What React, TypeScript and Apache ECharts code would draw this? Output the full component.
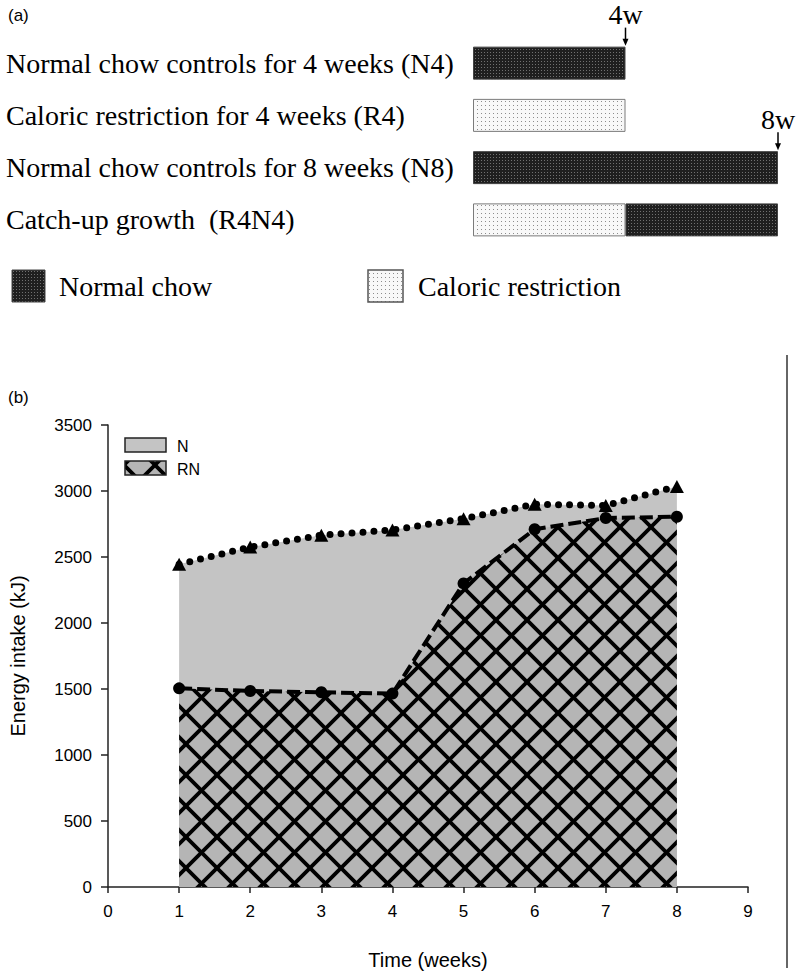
import React, { useEffect, useRef } from 'react';
import * as echarts from 'echarts';

// ---------- Panel (a) data ----------
const phaseCategories = [
  'Normal chow controls for 4 weeks (N4)',
  'Caloric restriction for 4 weeks (R4)',
  'Normal chow controls for 8 weeks (N8)',
  'Catch-up growth  (R4N4)',
];
const restrictionWeeks = [0, 4, 0, 4];
const normalWeeks = [4, 0, 8, 4];
const markerWeeks = [4, 8];
const markerRows = [0, 2];
const markerLabels = ['4w', '8w'];
const phaseLegend = ['Normal chow', 'Caloric restriction'];

// ---------- Panel (b) data ----------
const weeks = [1, 2, 3, 4, 5, 6, 7, 8];
const nIntake = [2445, 2575, 2665, 2705, 2790, 2900, 2890, 3035];
const rnIntake = [1505, 1485, 1475, 1465, 2300, 2710, 2795, 2805];
const seriesNames = ['N', 'RN'];

const SERIF = '"Liberation Serif", "Times New Roman", serif';
const SANS = '"Liberation Sans", Arial, sans-serif';

function svgTile(w: number, h: number, body: string) {
  const svg = `<svg xmlns='http://www.w3.org/2000/svg' width='${w}' height='${h}' shape-rendering='crispEdges'>${body}</svg>`;
  return {
    image: 'data:image/svg+xml;charset=utf-8,' + encodeURIComponent(svg),
    repeat: 'repeat',
    imageWidth: w,
    imageHeight: h,
  } as any;
}

function hatchTile(ox: number, oy: number) {
  const s = 31;
  let lines = '';
  for (const k of [-1, 0, 1]) {
    lines += `<line x1='-5' y1='${-5 + k * s}' x2='${s + 5}' y2='${s + 5 + k * s}'/>`;
    lines += `<line x1='-5' y1='${s + 5 + k * s}' x2='${s + 5}' y2='${-5 + k * s}'/>`;
  }
  const svg = `<svg xmlns='http://www.w3.org/2000/svg' width='${s}' height='${s}'><rect width='${s}' height='${s}' fill='#b5b5b5'/><g stroke='#000' stroke-width='3.8'>${lines}</g></svg>`;
  return {
    image: 'data:image/svg+xml;charset=utf-8,' + encodeURIComponent(svg),
    repeat: 'repeat',
    imageWidth: s,
    imageHeight: s,
    x: ox,
    y: oy,
  } as any;
}

const darkPattern = () =>
  svgTile(3, 3, `<rect width='3' height='3' fill='#1f1f1f'/><rect x='1' y='1' width='1' height='1' fill='#707070'/>`);
const lightPattern = () =>
  svgTile(4, 4, `<rect width='4' height='4' fill='#f8f8f8'/><rect x='1' y='1' width='1' height='1' fill='#8c8c8c'/>`);

export default function App() {
  const ref = useRef<HTMLDivElement>(null);

  useEffect(() => {
    document.body.style.margin = '0';
    if (!ref.current) return;
    const chart = echarts.init(ref.current, undefined, { renderer: 'svg' });
    const hatch = hatchTile(-2.5, 3.5);
    const hatchLegend = hatchTile(18, 9);
    const dark = darkPattern();
    const light = lightPattern();

    const barItem = (v: number, color: any, border: string) =>
      v === 0
        ? { value: 0, itemStyle: { borderWidth: 0 } }
        : { value: v, itemStyle: { color, borderColor: border, borderWidth: 1 } };

    chart.setOption({
      animation: false,
      backgroundColor: '#ffffff',
      grid: [
        { left: 107, right: 52, top: 425, bottom: 86 },
        { left: 473, right: 22, top: 37, height: 209 },
      ],
      xAxis: [
        {
          gridIndex: 0,
          type: 'value',
          min: 0,
          max: 9,
          interval: 1,
          name: 'Time (weeks)',
          nameLocation: 'middle',
          nameGap: 63,
          nameTextStyle: { fontFamily: SANS, fontSize: 20, color: '#000' },
          axisLine: { show: true, lineStyle: { color: '#222', width: 1.5 } },
          axisTick: { show: true, inside: false, length: 6, lineStyle: { color: '#222', width: 1.5 } },
          axisLabel: { fontFamily: SANS, fontSize: 17, color: '#000', margin: 16, formatter: (v: number) => String(v) },
          splitLine: { show: false },
        },
        {
          gridIndex: 1,
          type: 'value',
          min: 0,
          max: 8,
          show: false,
        },
      ],
      yAxis: [
        {
          gridIndex: 0,
          type: 'value',
          min: 0,
          max: 3500,
          interval: 500,
          name: 'Energy intake (kJ)',
          nameLocation: 'middle',
          nameRotate: 90,
          nameGap: 80,
          nameTextStyle: { fontFamily: SANS, fontSize: 20, color: '#000' },
          axisLine: { show: true, lineStyle: { color: '#222', width: 1.5 } },
          axisTick: { show: true, inside: false, length: 7, lineStyle: { color: '#222', width: 1.5 } },
          axisLabel: { fontFamily: SANS, fontSize: 17, color: '#000', margin: 16, formatter: (v: number) => String(v) },
          splitLine: { show: false },
        },
        {
          gridIndex: 1,
          type: 'category',
          inverse: true,
          data: phaseCategories,
          axisLine: { show: false },
          axisTick: { show: false },
          axisLabel: { align: 'left', margin: 467, fontFamily: SERIF, fontSize: 28, color: '#000' },
        },
      ],
      series: [
        {
          name: 'restriction',
          type: 'bar',
          xAxisIndex: 1,
          yAxisIndex: 1,
          stack: 'phase',
          barWidth: 33,
          data: restrictionWeeks.map((v) => barItem(v, light, '#7a7a7a')),
          z: 2,
        },
        {
          name: 'normal',
          type: 'bar',
          xAxisIndex: 1,
          yAxisIndex: 1,
          stack: 'phase',
          barWidth: 33,
          data: normalWeeks.map((v) => barItem(v, dark, '#444')),
          z: 2,
        },
        {
          name: seriesNames[0] + '-area',
          type: 'line',
          xAxisIndex: 0,
          yAxisIndex: 0,
          data: weeks.map((w, i) => [w, nIntake[i]]),
          symbol: 'none',
          lineStyle: { width: 0, opacity: 0 },
          areaStyle: { color: '#c4c4c4', opacity: 1 },
          z: 1,
        },
        {
          name: seriesNames[1] + '-area',
          type: 'line',
          xAxisIndex: 0,
          yAxisIndex: 0,
          data: weeks.map((w, i) => [w, rnIntake[i]]),
          symbol: 'none',
          lineStyle: { width: 0, opacity: 0 },
          areaStyle: { color: hatch, opacity: 1 },
          z: 2,
        },
        {
          name: seriesNames[0],
          type: 'line',
          xAxisIndex: 0,
          yAxisIndex: 0,
          data: weeks.map((w, i) => [w, nIntake[i]]),
          symbol: 'triangle',
          symbolSize: [14, 13],
          itemStyle: { color: '#000' },
          lineStyle: { color: '#000', width: 7, type: [0, 11], cap: 'round' },
          z: 4,
        },
        {
          name: seriesNames[1],
          type: 'line',
          xAxisIndex: 0,
          yAxisIndex: 0,
          data: weeks.map((w, i) => [w, rnIntake[i]]),
          symbol: 'circle',
          symbolSize: 12,
          itemStyle: { color: '#000' },
          lineStyle: { color: '#000', width: 4, type: [13, 5] },
          z: 5,
        },
      ],
    });

    const markers: any[] = [];
    markerWeeks.forEach((wk, i) => {
      const p = chart.convertToPixel({ xAxisIndex: 1, yAxisIndex: 1 } as any, [wk, phaseCategories[markerRows[i]]]) as number[];
      const top = p[1] - 16.5;
      markers.push({
        type: 'text',
        style: { text: markerLabels[i], x: p[0], y: top - 32, fill: '#000', font: `28px ${SERIF}`, textAlign: 'center', textVerticalAlign: 'middle' },
      });
      markers.push({
        type: 'line',
        shape: { x1: p[0], y1: top - 19, x2: p[0], y2: top - 6 },
        style: { stroke: '#000', lineWidth: 1.5 },
      });
      markers.push({
        type: 'polygon',
        shape: { points: [[p[0] - 3, top - 8], [p[0] + 3, top - 8], [p[0], top - 1]] },
        style: { fill: '#000' },
      });
    });

    chart.setOption({
      graphic: {
        elements: [
          { type: 'text', style: { text: '(a)', x: 8, y: 15, fill: '#000', font: `17px ${SANS}`, textVerticalAlign: 'middle' } },
          { type: 'text', style: { text: '(b)', x: 8, y: 397, fill: '#000', font: `17px ${SANS}`, textVerticalAlign: 'middle' } },
          // panel (a) legend
          { type: 'rect', shape: { x: 12, y: 270, width: 33, height: 32 }, style: { fill: dark, stroke: '#444', lineWidth: 1 } },
          { type: 'text', style: { text: phaseLegend[0], x: 59, y: 286, fill: '#000', font: `28px ${SERIF}`, textVerticalAlign: 'middle' } },
          { type: 'rect', shape: { x: 368, y: 270, width: 35, height: 32 }, style: { fill: light, stroke: '#555', lineWidth: 1.5 } },
          { type: 'text', style: { text: phaseLegend[1], x: 418, y: 286, fill: '#000', font: `28px ${SERIF}`, textVerticalAlign: 'middle' } },
          // panel (b) legend
          { type: 'rect', shape: { x: 125, y: 438, width: 41, height: 14 }, style: { fill: '#c4c4c4', stroke: '#222', lineWidth: 1.5 } },
          { type: 'text', style: { text: seriesNames[0], x: 177, y: 446, fill: '#000', font: `16px ${SANS}`, textVerticalAlign: 'middle' } },
          { type: 'rect', shape: { x: 125, y: 461, width: 41, height: 14 }, style: { fill: hatchLegend, stroke: '#222', lineWidth: 1.5 } },
          { type: 'text', style: { text: seriesNames[1], x: 177, y: 469, fill: '#000', font: `16px ${SANS}`, textVerticalAlign: 'middle' } },
          // right border line
          { type: 'line', shape: { x1: 787, y1: 355, x2: 787, y2: 968 }, style: { stroke: '#333', lineWidth: 1.5 } },
          ...markers,
        ],
      },
    });

    return () => chart.dispose();
  }, []);

  return <div ref={ref} style={{ width: 800, height: 973 }} />;
}
